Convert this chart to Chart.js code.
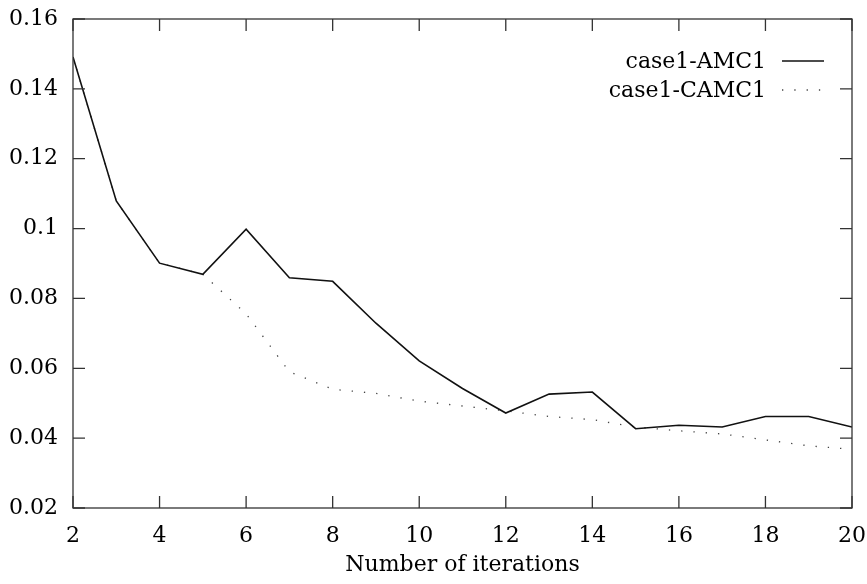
<!DOCTYPE html>
<html>
<head>
<meta charset="utf-8">
<script src="https://cdn.jsdelivr.net/npm/chart.js@4.4.0/dist/chart.umd.min.js"></script>
<style>
  body { margin: 0; background: #fff; }
  #wrap { width: 867px; height: 584px; }
</style>
</head>
<body>
<div id="wrap"><canvas id="grafica" width="867" height="584"></canvas></div>
<script>
// Iteraciones (eje X)
const iteraciones = [2, 3, 4, 5, 6, 7, 8, 9, 10, 11, 12, 13, 14, 15, 16, 17, 18, 19, 20];

// Error de cada caso
const amc1 = [0.1491, 0.1079, 0.0901, 0.0869, 0.0998, 0.0859, 0.0849, 0.0729, 0.0621, 0.0542, 0.0472,
              0.0526, 0.0532, 0.0427, 0.0437, 0.0432, 0.0462, 0.0462, 0.0432];
const camc1 = [0.1491, 0.1079, 0.0901, 0.0869, 0.0756, 0.0590, 0.0540, 0.0528, 0.0506, 0.0492, 0.0478,
               0.0462, 0.0453, 0.0432, 0.0421, 0.0412, 0.0395, 0.0378, 0.0368];

// Marcas de los ejes
const ticksX = [2, 4, 6, 8, 10, 12, 14, 16, 18, 20];
const ticksY = [0.02, 0.04, 0.06, 0.08, 0.1, 0.12, 0.14, 0.16];

const fuente = { family: 'DejaVu Serif', size: 22 };
const tinta = '#000';

// Marco con marcas hacia dentro y leyenda al estilo gnuplot
const marcoPlugin = {
    id: 'marco',
    afterDatasetsDraw(chart) {
        const { ctx, chartArea: a, scales } = chart;
        const L = 12;
        ctx.save();
        ctx.strokeStyle = '#333';
        ctx.lineWidth = 1.3;
        ctx.strokeRect(a.left, a.top, a.right - a.left, a.bottom - a.top);
        ctx.beginPath();
        scales.x.ticks.forEach(t => {
            const px = scales.x.getPixelForValue(t.value);
            ctx.moveTo(px, a.bottom); ctx.lineTo(px, a.bottom - L);
            ctx.moveTo(px, a.top); ctx.lineTo(px, a.top + L);
        });
        scales.y.ticks.forEach(t => {
            const py = scales.y.getPixelForValue(t.value);
            ctx.moveTo(a.left, py); ctx.lineTo(a.left + L, py);
            ctx.moveTo(a.right, py); ctx.lineTo(a.right - L, py);
        });
        ctx.stroke();

        // Leyenda
        ctx.font = fuente.size + 'px ' + fuente.family;
        ctx.textAlign = 'right';
        ctx.textBaseline = 'middle';
        ctx.fillStyle = tinta;
        chart.data.datasets.forEach((ds, i) => {
            const y = 61 + i * 29;
            ctx.fillText(ds.label, 766, y + 1);
            ctx.beginPath();
            ctx.strokeStyle = ds.borderColor;
            ctx.lineWidth = ds.borderWidth;
            ctx.setLineDash(ds.borderDash || []);
            ctx.moveTo(782, y); ctx.lineTo(824, y);
            ctx.stroke();
        });
        ctx.restore();
    }
};

new Chart(document.getElementById('grafica'), {
    type: 'line',
    data: {
        datasets: [
            {
                label: 'case1-AMC1',
                data: iteraciones.map((x, i) => ({ x: x, y: amc1[i] })),
                borderColor: '#111',
                borderWidth: 1.6,
                pointRadius: 0,
                tension: 0
            },
            {
                label: 'case1-CAMC1',
                data: iteraciones.map((x, i) => ({ x: x, y: camc1[i] })),
                borderColor: '#444',
                borderWidth: 1.3,
                borderDash: [1.3, 11],
                pointRadius: 0,
                tension: 0
            }
        ]
    },
    options: {
        responsive: false,
        animation: false,
        layout: { padding: { top: 19, right: 15, left: 0, bottom: 0 } },
        plugins: {
            legend: { display: false },
            tooltip: { enabled: false }
        },
        scales: {
            x: {
                type: 'linear',
                min: 2,
                max: 20,
                afterBuildTicks: s => { s.ticks = ticksX.map(v => ({ value: v })); },
                afterFit: s => { s.height = 76; s.paddingLeft = 0; s.paddingRight = 0; },
                grid: { display: false, drawTicks: false },
                border: { display: false },
                ticks: { color: tinta, font: fuente, padding: 15, maxRotation: 0 },
                title: {
                    display: true,
                    text: 'Number of iterations',
                    color: tinta,
                    font: fuente,
                    padding: { top: 0, bottom: 6 }
                }
            },
            y: {
                min: 0.02,
                max: 0.16,
                afterBuildTicks: s => { s.ticks = ticksY.map(v => ({ value: v })); },
                afterFit: s => { s.width = 73; s.paddingTop = 0; s.paddingBottom = 0; },
                grid: { display: false, drawTicks: false },
                border: { display: false },
                ticks: {
                    color: tinta,
                    font: fuente,
                    padding: 15,
                    callback: v => String(+v.toFixed(2))
                }
            }
        }
    },
    plugins: [marcoPlugin]
});
</script>
</body>
</html>
